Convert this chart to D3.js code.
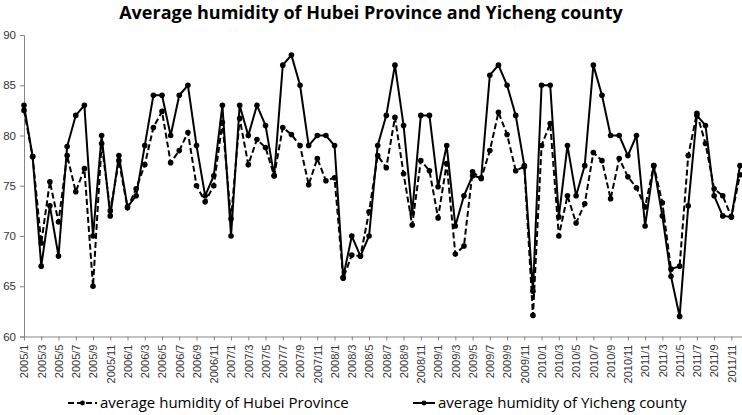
<!DOCTYPE html>
<html>
<head>
<meta charset="utf-8">
<script src="https://cdn.jsdelivr.net/npm/d3@7"></script>
<style>
  body { margin: 0; background: #fff; }
  svg { display: block; font-family: "Open Sans", sans-serif; }
</style>
</head>
<body>
<svg width="742" height="415"></svg>
<script>
const years = [2005, 2006, 2007, 2008, 2009, 2010, 2011];
const months = d3.range(1, 13);
const categories = years.flatMap(y => months.map(m => y + "/" + m));

const hubei = [
  82.5, 77.9, 69.3, 75.4, 71.4, 78.0, 74.4, 76.7, 65.0, 79.2, 72.5, 77.5,
  72.8, 74.7, 77.1, 80.8, 82.4, 77.3, 78.5, 80.3, 75.0, 73.4, 75.0, 81.3,
  71.7, 81.7, 77.1, 79.6, 78.8, 76.0, 80.8, 80.1, 79.0, 75.1, 77.7, 75.5,
  75.8, 65.8, 68.1, 68.0, 72.4, 78.0, 76.8, 81.8, 76.2, 71.1, 77.5, 76.5,
  71.8, 77.2, 68.2, 69.0, 76.4, 75.7, 78.5, 82.3, 80.1, 76.5, 76.9, 62.1,
  79.0, 81.2, 70.0, 74.0, 71.3, 73.2, 78.3, 77.5, 73.7, 77.7, 75.9, 74.8,
  72.9, 77.0, 73.3, 66.7, 67.0, 78.0, 82.2, 79.2, 74.7, 74.0, 71.9, 76.1
];

const yicheng = [
  83, 77.9, 67, 73, 68, 78.9, 82, 83, 70, 80, 72, 78,
  72.9, 74, 79, 84, 84, 80, 84, 85, 79, 74, 76, 83,
  70, 83, 80, 83, 81, 76, 87, 88, 85, 79, 80, 80,
  79, 65.9, 70, 68, 70, 79, 82, 87, 81, 72.3, 82, 82,
  74.9, 79, 71, 74, 76, 75.8, 86, 87, 85, 82, 77, 64.5,
  85, 85, 71.9, 79, 74, 77, 87, 84, 80, 80, 78, 80,
  71, 77, 72, 66, 62, 73, 82, 81, 74, 72, 71.9, 77
];

const yTicks = [60, 65, 70, 75, 80, 85, 90];
const xTickLabels = categories.filter((d, i) => i % 2 === 0);

const series = [
  { name: "average humidity of Hubei Province", values: hubei, dash: "6,3" },
  { name: "average humidity of Yicheng county", values: yicheng, dash: null }
];

const svg = d3.select("svg");

const x = d3.scalePoint().domain(categories).range([24, 740]).padding(0);
const y = d3.scaleLinear().domain([60, 90]).range([336.5, 35]);

// title
svg.append("text")
  .attr("x", 371)
  .attr("y", 19)
  .attr("text-anchor", "middle")
  .style("font-size", "18px")
  .style("font-weight", "bold")
  .attr("fill", "#000")
  .text("Average humidity of Hubei Province and Yicheng county");

// y axis
const yAxis = svg.append("g")
  .attr("transform", "translate(24,0)")
  .call(d3.axisLeft(y).tickValues(yTicks).tickSize(4).tickPadding(4));
yAxis.select(".domain").attr("stroke", "#868686");
yAxis.selectAll(".tick line").attr("stroke", "#868686");
yAxis.selectAll(".tick text")
  .style("font-size", "11.5px")
  .attr("fill", "#333");

// x axis
const xAxis = svg.append("g")
  .attr("transform", `translate(0,${y(60)})`)
  .call(d3.axisBottom(x).tickValues(xTickLabels).tickSize(4).tickPadding(4));
xAxis.select(".domain").attr("stroke", "#868686").attr("d", `M24,0.5H742`);
xAxis.selectAll(".tick line").attr("stroke", "#868686");
xAxis.selectAll(".tick text")
  .style("font-size", "11px")
  .attr("fill", "#333")
  .attr("text-anchor", "end")
  .attr("dy", "0.35em")
  .attr("transform", "translate(0,2) rotate(-90)")
  .attr("x", -6)
  .attr("y", 0);

// lines
const line = d3.line()
  .x((d, i) => x(categories[i]))
  .y(d => y(d));

const plot = svg.append("g");
series.forEach(s => {
  plot.append("path")
    .datum(s.values)
    .attr("fill", "none")
    .attr("stroke", "#000")
    .attr("stroke-width", 2)
    .attr("stroke-dasharray", s.dash)
    .attr("d", line);
  plot.append("g")
    .selectAll("circle")
    .data(s.values)
    .join("circle")
    .attr("cx", (d, i) => x(categories[i]))
    .attr("cy", d => y(d))
    .attr("r", 2.8)
    .attr("fill", "#000");
});

// legend
const legendPos = [
  { x1: 68, x2: 97, tx: 100 },
  { x1: 413, x2: 435, tx: 438 }
];
const legend = svg.append("g");
series.forEach((s, i) => {
  const p = legendPos[i];
  const ly = 403;
  legend.append("line")
    .attr("x1", p.x1).attr("x2", p.x2)
    .attr("y1", ly).attr("y2", ly)
    .attr("stroke", "#000")
    .attr("stroke-width", 2)
    .attr("stroke-dasharray", s.dash);
  legend.append("circle")
    .attr("cx", (p.x1 + p.x2) / 2)
    .attr("cy", ly)
    .attr("r", 2.4)
    .attr("fill", "#000");
  legend.append("text")
    .attr("x", p.tx)
    .attr("y", ly)
    .attr("dy", "0.35em")
    .style("font-size", "15px")
    .attr("fill", "#000")
    .text(s.name);
});
</script>
</body>
</html>
